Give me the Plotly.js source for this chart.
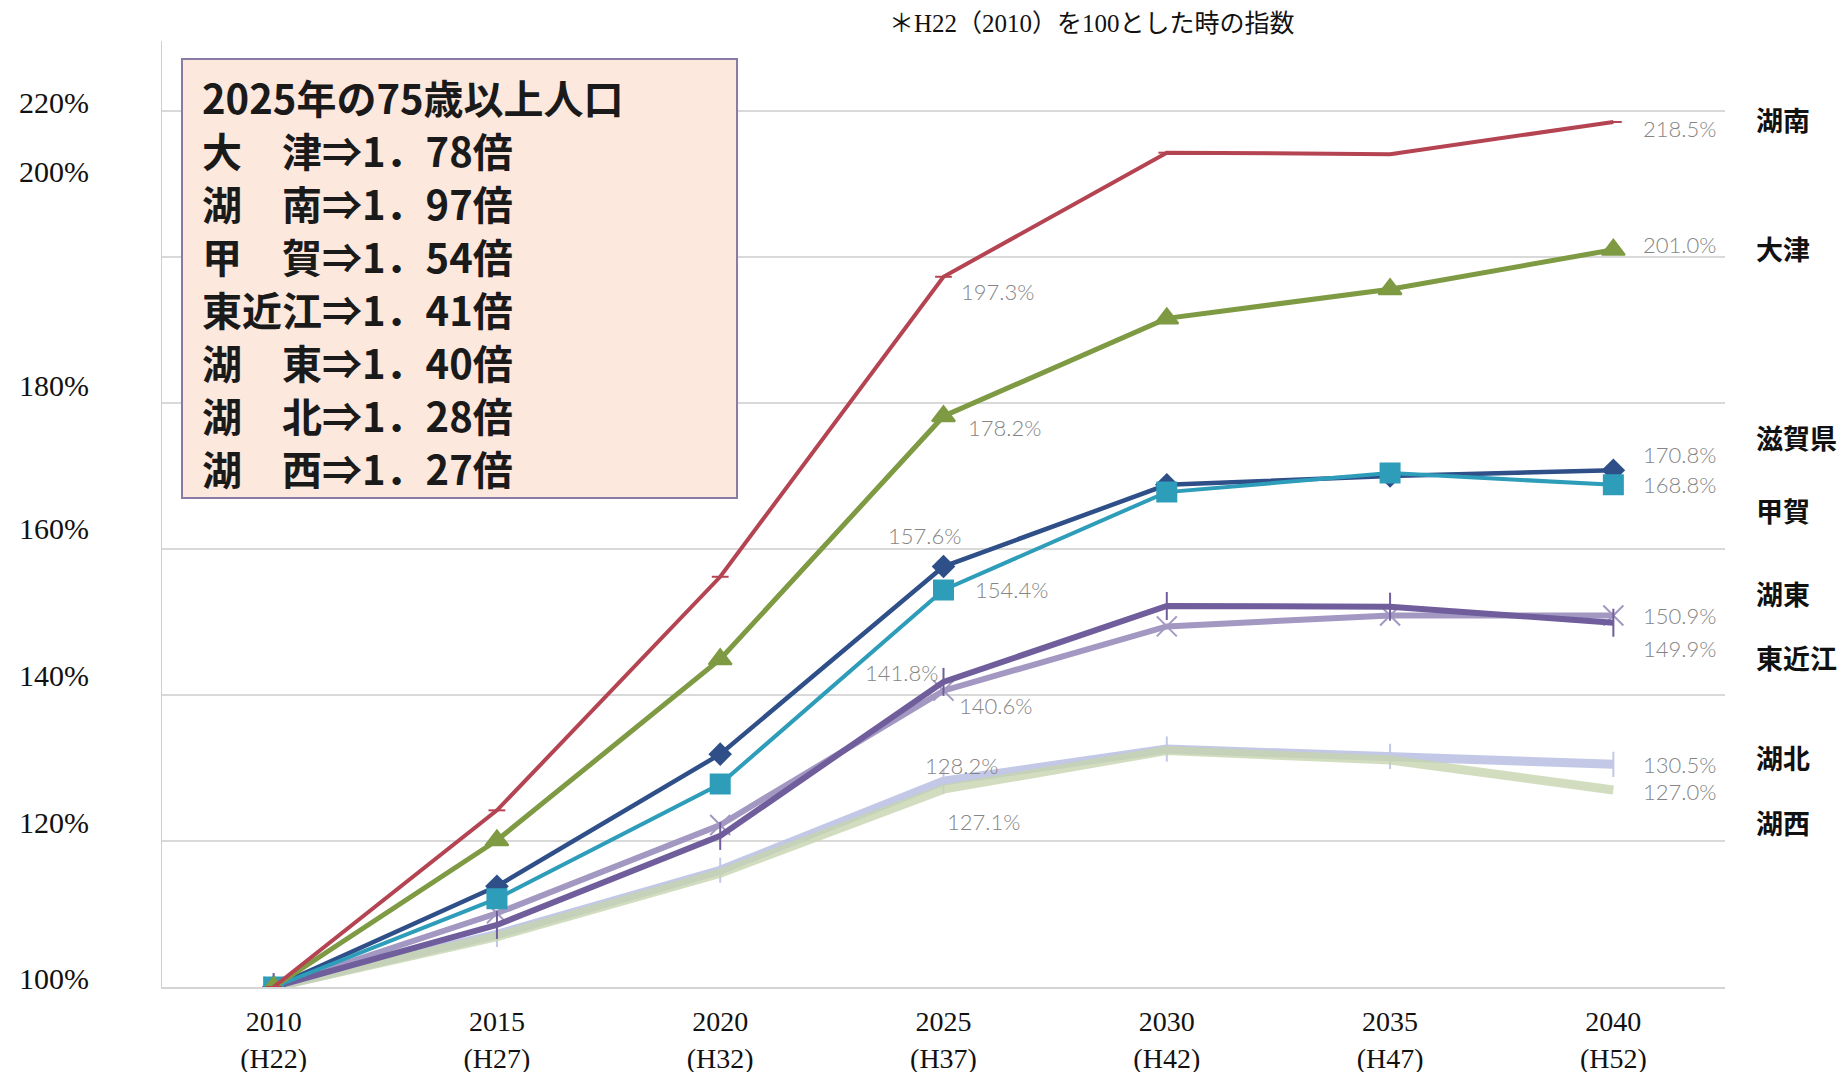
<!DOCTYPE html>
<html>
<head>
<meta charset="utf-8">
<script src="https://cdn.plot.ly/plotly-3.0.1.min.js"></script>
<style>
  html, body { margin: 0; padding: 0; background: #fff; }
  #myDiv { width: 1843px; height: 1072px; }
</style>
</head>
<body>
<div id="myDiv"></div>
<script>
// categories
var years = ['2010', '2015', '2020', '2025', '2030', '2035', '2040'];
var eras  = ['H22', 'H27', 'H32', 'H37', 'H42', 'H47', 'H52'];

// index (H22 = 100)
var konan      = [100, 124.2, 156.2, 197.3, 214.3, 214.1, 218.5];
var otsu       = [100, 120.1, 144.9, 178.2, 191.6, 195.6, 201.0];
var shiga      = [100, 113.8, 131.9, 157.6, 168.8, 170.0, 170.8];
var koka       = [100, 112.1, 127.8, 154.4, 167.8, 170.4, 168.8];
var higashiomi = [100, 108.5, 120.7, 141.8, 152.2, 152.1, 149.9];
var koto       = [100, 110.1, 122.2, 140.6, 149.4, 150.9, 150.9];
var kohoku     = [100, 107.2, 116.0, 128.2, 132.6, 131.6, 130.5];
var kosei      = [100, 106.9, 115.6, 127.1, 132.4, 131.1, 127.0];

// odd y tick labels of the original
var yTickVals = [221.2, 211.7, 182.4, 162.8, 142.7, 122.5, 101.2];
var yTickText = ['220%', '200%', '180%', '160%', '140%', '120%', '100%'];

// text box
var boxNames  = ['大　津', '湖　南', '甲　賀', '東近江', '湖　東', '湖　北', '湖　西'];
var boxRatios = ['1．78', '1．97', '1．54', '1．41', '1．40', '1．28', '1．27'];

var cats = [];
for (var i = 0; i < years.length; i++) cats.push(years[i] + '<br>(' + eras[i] + ')');

// plot area in pixels, to place the decorations
var PL = 162, PR = 1725, PT = 41, PB = 987;
function px(x) { return (x - PL) / (PR - PL); }
function py(y) { return (PB - y) / (PB - PT); }

/**************************************************************/
// [data, name, color, width, marker symbol, marker size, opacity]
var series = [
  [kohoku,     '湖北',   '#bcc3e4', 9,   'line-ns-open',  18, 0.9],
  [kosei,      '湖西',   '#c6d4ae', 9,   null,            0,  0.8],
  [koto,       '湖東',   '#a398c2', 6,   'x-thin-open',   20, 1],
  [higashiomi, '東近江', '#6f5d9c', 6,   'line-ns-open',  20, 1],
  [shiga,      '滋賀県', '#2f4f88', 4.5, 'diamond',       16, 1],
  [koka,       '甲賀',   '#2e9dba', 4,   'square',        19, 1],
  [otsu,       '大津',   '#7e9a43', 5,   'triangle-up',   20, 1],
  [konan,      '湖南',   '#b54453', 4,   'line-ew-open',  12, 1]
];

var traces = [];
series.forEach(function(s) {
  var t = {
    x: cats, y: s[0], name: s[1], type: 'scatter',
    mode: s[4] ? 'lines+markers' : 'lines',
    line: { color: s[2], width: s[3] },
    opacity: s[6],
    hoverinfo: 'skip'
  };
  if (s[4]) t.marker = { symbol: s[4], size: s[5], color: s[2], line: { color: s[2], width: 2 } };
  traces.push(t);
});
// carries the second y axis with the tick labels
traces.push({ x: [cats[0]], y: [null], yaxis: 'y2', type: 'scatter', mode: 'markers',
              showlegend: false, hoverinfo: 'skip' });

/**************************************************************/
// value labels: [series, index, dx, dy, xanchor]
var grayFont = { family: 'Lato, "Liberation Sans", sans-serif', size: 22, color: '#858585', weight: 300 };
var valLabels = [
  [konan, 3, 15, -15, 'left'],  [konan, 6, 28, -6, 'left'],
  [otsu, 3, 22, -11, 'left'],   [otsu, 6, 28, 5, 'left'],
  [shiga, 3, -19, 31, 'center'],[shiga, 6, 28, 16, 'left'],
  [koka, 3, 29, 0, 'left'],     [koka, 6, 28, 0, 'left'],
  [higashiomi, 3, -4, 9, 'right'], [higashiomi, 6, 28, -26, 'left'],
  [koto, 3, 13, -15, 'left'],   [koto, 6, 28, 0, 'left'],
  [kohoku, 3, 18, 16, 'center'],[kohoku, 6, 28, 0, 'left'],
  [kosei, 3, 40, -32, 'center'],[kosei, 6, 28, -2, 'left']
];

var annotations = [];
valLabels.forEach(function(v) {
  annotations.push({
    x: cats[v[1]], y: v[0][v[1]], xref: 'x', yref: 'y',
    text: v[0][v[1]].toFixed(1) + '%', showarrow: false,
    xanchor: v[4], yanchor: 'middle', xshift: v[2], yshift: v[3],
    font: grayFont
  });
});

// names at the right
var sideNames = ['湖南', '大津', '滋賀県', '甲賀', '湖東', '東近江', '湖北', '湖西'];
var sideY     = [218.9, 201.2, 175.3, 165.3, 153.9, 145.1, 131.5, 122.5];
sideNames.forEach(function(n, i) {
  annotations.push({
    x: 1.0186, y: sideY[i], xref: 'paper', yref: 'y', text: '<b>' + n + '</b>',
    showarrow: false, xanchor: 'left', yanchor: 'middle',
    font: { family: '"Noto Sans CJK JP", sans-serif', size: 27, color: '#111' }
  });
});

// box text, one line each
var boxLines = ['2025年の75歳以上人口'];
for (var k = 0; k < boxNames.length; k++) boxLines.push(boxNames[k] + '⇒' + boxRatios[k] + '倍');
boxLines.forEach(function(line, j) {
  annotations.push({
    x: px(202), y: py(97 + j * 53), xref: 'paper', yref: 'paper', text: '<b>' + line + '</b>',
    showarrow: false, xanchor: 'left', yanchor: 'middle', borderpad: 0, borderwidth: 0,
    font: { family: '"Noto Sans CJK JP", sans-serif', size: 40, color: '#1a1a1a' }
  });
});

// note at top
annotations.push({
  x: px(1092), y: py(24), xref: 'paper', yref: 'paper', text: '＊H22（2010）を100とした時の指数',
  showarrow: false, xanchor: 'center', yanchor: 'middle',
  font: { family: '"Liberation Serif", "Noto Sans CJK JP", serif', size: 25, color: '#111' }
});

var layout = {
  width: 1843, height: 1072,
  margin: { l: PL, r: 1843 - PR, t: PT, b: 1072 - PB },
  paper_bgcolor: '#fff', plot_bgcolor: '#fff',
  showlegend: false, hovermode: false,
  xaxis: {
    type: 'category', categoryorder: 'array', categoryarray: cats,
    range: [-0.5, 6.5], showgrid: false, zeroline: false,
    showline: true, linecolor: '#d4d4d4', linewidth: 1.5,
    ticks: '', ticklabelstandoff: 9,
    tickfont: { family: '"Liberation Serif", serif', size: 28, color: '#111' }
  },
  yaxis: {
    range: [100, 229.6], dtick: 20, tick0: 100,
    showgrid: true, gridcolor: '#d9d9d9', gridwidth: 1.5,
    zeroline: false, showticklabels: false, ticks: '',
    showline: true, linecolor: '#cfcfcf', linewidth: 1.5
  },
  yaxis2: {
    overlaying: 'y', side: 'left', range: [100, 229.6],
    tickmode: 'array', tickvals: yTickVals, ticktext: yTickText,
    showgrid: false, zeroline: false, showline: false, ticks: '',
    ticklabelstandoff: 72,
    tickfont: { family: '"Liberation Serif", serif', size: 30, color: '#111' }
  },
  shapes: [{
    type: 'rect', xref: 'paper', yref: 'paper', layer: 'above',
    x0: px(182), x1: px(737), y0: py(498), y1: py(59),
    fillcolor: '#fce8dc', line: { color: '#8a7aa6', width: 2 }
  }],
  annotations: annotations
};

Plotly.newPlot('myDiv', traces, layout, { displayModeBar: false, staticPlot: true });
</script>
</body>
</html>
